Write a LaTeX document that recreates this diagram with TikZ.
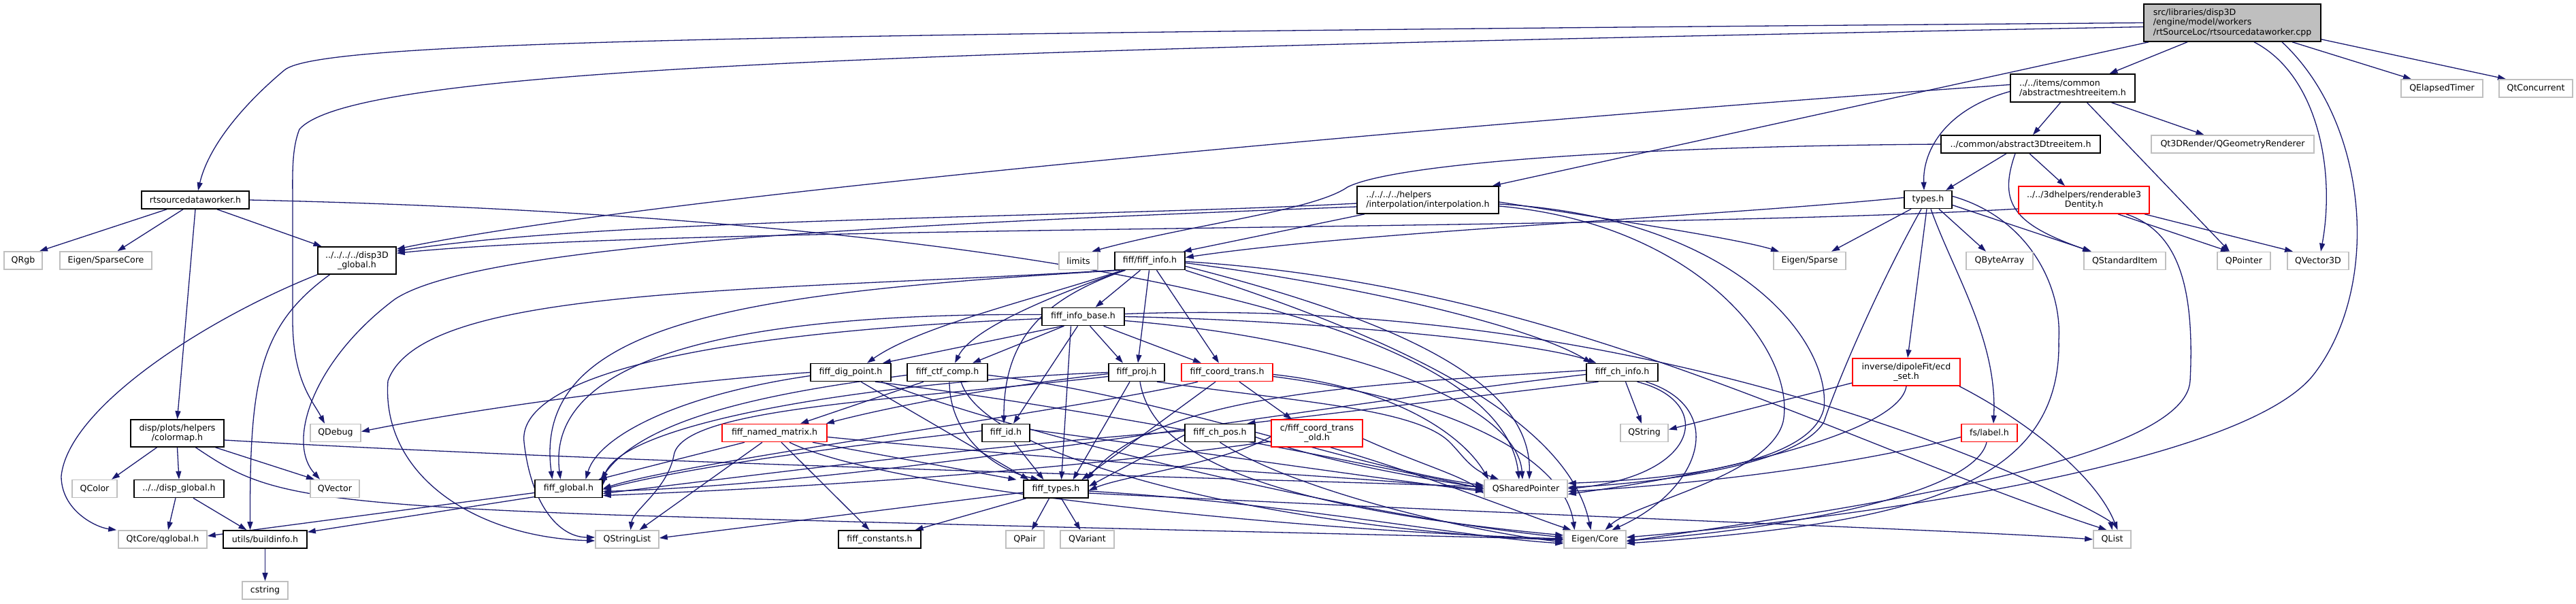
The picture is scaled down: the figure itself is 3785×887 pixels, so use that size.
\documentclass[tikz,border=0pt]{standalone}
\usepackage{fontspec}
\setmainfont{DejaVu Sans}
\usetikzlibrary{arrows.meta}
\definecolor{depblue}{HTML}{191970}
\definecolor{sysgray}{HTML}{BFBFBF}
\definecolor{rootgray}{HTML}{BFBFBF}
\definecolor{incred}{HTML}{FF0000}
\pgfdeclarelayer{edges}
\pgfsetlayers{edges,main}
\tikzset{
  filebox/.style  = {rectangle, draw=black, fill=white, line width=1.6pt,
                     inner sep=2pt, font=\fontsize{12.6}{14.3}\selectfont,
                     align=center, minimum height=26pt},
  rootfile/.style = {filebox, fill=rootgray, align=left, minimum height=55pt},
  sysfile/.style  = {filebox, draw=sysgray},
  redfile/.style  = {filebox, draw=incred},
  twoline/.style  = {minimum height=40pt},
  dep/.style      = {draw=depblue, line width=1.3pt,
                     -{Triangle[length=12pt,width=8pt]}},
}

\begin{document}
\begin{tikzpicture}[x=1pt, y=-1pt]
  \useasboundingbox (0,0) rectangle (3785,887);
  % row 0-1
  \node[rootfile, minimum width=260pt] (root) at (3280,33.5)
    {src/libraries/disp3D\\/engine/model/workers\\/rtSourceLoc/rtsourcedataworker.cpp};
  \node[filebox, twoline, align=left, minimum width=183pt, minimum height=41pt] (abstractmesh) at (3045.5,129.5)
    {../../items/common\\/abstractmeshtreeitem.h};
  \node[sysfile, minimum width=120pt] (QElapsedTimer) at (3588,130) {QElapsedTimer};
  \node[sysfile, minimum width=108pt] (QtConcurrent) at (3726,130) {QtConcurrent};
  \node[filebox, minimum width=234pt] (abstract3D) at (2969,212) {../common/abstract3Dtreeitem.h};
  \node[sysfile, minimum width=239pt] (Qt3DRender) at (3280.5,212) {Qt3DRender/QGeometryRenderer};
  % row 2
  \node[filebox, minimum width=158pt] (rtsrch) at (287,294) {rtsourcedataworker.h};
  \node[filebox, twoline, align=left, minimum width=208pt] (interp) at (2098,294)
    {../../../../helpers\\/interpolation/interpolation.h};
  \node[filebox, minimum width=70pt] (types) at (2833,293.5) {types.h};
  \node[redfile, twoline, minimum width=192pt] (renderable) at (3062,294)
    {../../3dhelpers/renderable3\\Dentity.h};
  % row 3
  \node[sysfile, minimum width=56pt] (QRgb) at (34,383) {QRgb};
  \node[sysfile, minimum width=135pt] (EigenSparseCore) at (155.5,383) {Eigen/SparseCore};
  \node[filebox, twoline, minimum width=115pt] (disp3Dglobal) at (524.5,383) {../../../../disp3D\\\_global.h};
  \node[sysfile, minimum width=57pt] (limits) at (1584.5,383.5) {limits};
  \node[filebox, minimum width=103pt] (fiffinfo) at (1689.5,383.5) {fiff/fiff\_info.h};
  \node[sysfile, minimum width=106pt] (EigenSparse) at (2659,383.5) {Eigen/Sparse};
  \node[sysfile, minimum width=98pt] (QByteArray) at (2938,383.5) {QByteArray};
  \node[sysfile, minimum width=120pt] (QStandardItem) at (3122,383.5) {QStandardItem};
  \node[sysfile, minimum width=78pt] (QPointer) at (3297,383.5) {QPointer};
  \node[sysfile, minimum width=90pt] (QVector3D) at (3406,383.5) {QVector3D};
  % row 4-5
  \node[filebox, minimum width=121pt] (fiffinfobase) at (1591.5,465.5) {fiff\_info\_base.h};
  \node[filebox, minimum width=118pt] (fiffdigpoint) at (1250,547.5) {fiff\_dig\_point.h};
  \node[filebox, minimum width=118pt] (fiffctfcomp) at (1392,547.5) {fiff\_ctf\_comp.h};
  \node[filebox, minimum width=82pt] (fiffproj) at (1670,547.5) {fiff\_proj.h};
  \node[redfile, minimum width=134pt] (fiffcoordtrans) at (1803,547.5) {fiff\_coord\_trans.h};
  \node[filebox, minimum width=105pt] (fiffchinfo) at (2383.5,547.5) {fiff\_ch\_info.h};
  \node[redfile, twoline, minimum width=158pt] (ecdset) at (2801,547) {inverse/dipoleFit/ecd\\\_set.h};
  % row 6
  \node[filebox, twoline, minimum width=137pt] (colormap) at (260.5,637) {disp/plots/helpers\\/colormap.h};
  \node[sysfile, minimum width=74pt] (QDebug) at (493,636.5) {QDebug};
  \node[redfile, minimum width=154pt] (fiffnamedmatrix) at (1138,636.5) {fiff\_named\_matrix.h};
  \node[filebox, minimum width=70pt] (fiffid) at (1478,636.5) {fiff\_id.h};
  \node[filebox, minimum width=103pt] (fiffchpos) at (1792.5,636.5) {fiff\_ch\_pos.h};
  \node[redfile, twoline, minimum width=134pt] (coordtransold) at (1935,637) {c/fiff\_coord\_trans\\\_old.h};
  \node[sysfile, minimum width=70pt] (QString) at (2416,636.5) {QString};
  \node[redfile, minimum width=82pt] (fslabel) at (2923,636.5) {fs/label.h};
  % row 7
  \node[sysfile, minimum width=66pt] (QColor) at (139,718.5) {QColor};
  \node[filebox, minimum width=132pt] (dispglobal) at (263,718.5) {../../disp\_global.h};
  \node[sysfile, minimum width=72pt] (QVector) at (492,718.5) {QVector};
  \node[filebox, minimum width=99pt] (fiffglobal) at (835.5,718.5) {fiff\_global.h};
  \node[filebox, minimum width=95pt] (fifftypes) at (1551.5,719) {fiff\_types.h};
  \node[sysfile, minimum width=122pt] (QSharedPointer) at (2242,718.5) {QSharedPointer};
  % row 8-9
  \node[sysfile, minimum width=130pt] (QtCoreqglobal) at (239,793) {QtCore/qglobal.h};
  \node[filebox, minimum width=123pt] (buildinfo) at (389.5,793) {utils/buildinfo.h};
  \node[sysfile, minimum width=93pt] (QStringList) at (921.5,793) {QStringList};
  \node[filebox, minimum width=121pt] (fiffconstants) at (1292.5,793) {fiff\_constants.h};
  \node[sysfile, minimum width=56pt] (QPair) at (1506,793) {QPair};
  \node[sysfile, minimum width=79pt] (QVariant) at (1597.5,793) {QVariant};
  \node[sysfile, minimum width=91pt] (EigenCore) at (2343.5,793) {Eigen/Core};
  \node[sysfile, minimum width=55pt] (QList) at (3103.5,793) {QList};
  \node[sysfile, minimum width=67pt] (cstring) at (389.5,868) {cstring};

  \begin{pgfonlayer}{edges}
  % root file
  \draw[dep] (root.west) .. controls (1100,50) and (470,60) .. (418,103)
    .. controls (350,160) and (305,220) .. ([xshift=4pt]rtsrch.north);
  \draw[dep] ([yshift=-6pt]root.west) .. controls (1300,75) and (520,100) .. (440,190)
    .. controls (428,220) and (430,260) .. (430,300) -- (430,470)
    .. controls (430,560) and (460,590) .. ([xshift=-16pt]QDebug.north);
  \draw[dep] ([xshift=-66pt]root.south) -- ([xshift=54pt]abstractmesh.north);
  \draw[dep] ([xshift=8pt]root.south west) -- ([xshift=-10pt]interp.north east);
  \draw[dep] ([xshift=88pt]root.south) -- ([xshift=-45pt]QElapsedTimer.north);
  \draw[dep] ([yshift=4pt]root.south east) -- ([xshift=-44pt]QtConcurrent.north);
  \draw[dep] ([xshift=32pt]root.south) .. controls (3405,110) and (3432,250) .. ([xshift=4pt]QVector3D.north);
  \draw[dep] ([xshift=73pt]root.south) .. controls (3480,180) and (3500,420) .. (3400,550)
    .. controls (3300,680) and (2750,760) .. ([yshift=3pt]EigenCore.east);

  % rtsourcedataworker.h
  \draw[dep] ([xshift=-42pt]rtsrch.south) -- ([xshift=24pt]QRgb.north);
  \draw[dep] ([xshift=-18pt]rtsrch.south) -- ([xshift=17pt]EigenSparseCore.north);
  \draw[dep] (rtsrch.south) -- (colormap.north);
  \draw[dep] ([xshift=32pt]rtsrch.south) -- ([xshift=-52pt]disp3Dglobal.north);
  \draw[dep] (rtsrch.east) .. controls (1300,315) and (2200,430) .. ([xshift=-10pt]QSharedPointer.north);

  % globals
  \draw[dep] (disp3Dglobal.south west) .. controls (300,470) and (100,600) .. (90,700)
    .. controls (90,750) and (140,775) .. ([xshift=-2pt]QtCoreqglobal.north west);
  \draw[dep] ([xshift=-40pt]disp3Dglobal.south) .. controls (380,480) and (367,560) .. ([xshift=-22pt]buildinfo.north);
  \draw[dep] ([xshift=-5pt]dispglobal.south) -- ([xshift=8pt]QtCoreqglobal.north);
  \draw[dep] ([xshift=21pt]dispglobal.south) -- ([xshift=-27pt]buildinfo.north);
  \draw[dep] ([yshift=-6pt]fiffglobal.west) -- ([yshift=5pt]QtCoreqglobal.east);
  \draw[dep] ([yshift=-12pt]fiffglobal.west) -- ([yshift=-3pt]buildinfo.north east);
  \draw[dep] (buildinfo) -- (cstring);

  % colormap.h
  \draw[dep] ([xshift=-30pt]colormap.south) -- ([xshift=25pt]QColor.north);
  \draw[dep] (colormap.south) -- (dispglobal.north);
  \draw[dep] ([xshift=56pt]colormap.south) -- ([xshift=-30pt]QVector.north);
  \draw[dep] ([yshift=-10pt]colormap.east) .. controls (900,680) and (1700,700) .. ([yshift=3pt]QSharedPointer.west);
  \draw[dep] ([xshift=27pt]colormap.south) .. controls (380,720) and (420,740) .. (900,757)
    .. controls (1500,775) and (2000,785) .. (EigenCore.west);

  % abstractmeshtreeitem.h
  \draw[dep] ([xshift=-18pt]abstractmesh.south) -- ([xshift=18pt]abstract3D.north);
  \draw[dep] ([xshift=57pt]abstractmesh.south) -- ([xshift=-42pt]Qt3DRender.north);
  \draw[dep] ([xshift=21pt]abstractmesh.south) -- ([xshift=-21pt]QPointer.north);
  \draw[dep] ([yshift=-5pt]abstractmesh.west) .. controls (2860,160) and (2825,220) .. ([xshift=-6pt]types.north);
  \draw[dep] ([yshift=5pt]abstractmesh.west) .. controls (2300,170) and (1000,280) .. ([yshift=-4pt]disp3Dglobal.north east);

  % abstract3Dtreeitem.h
  \draw[dep] ([xshift=-21pt]abstract3D.south) -- ([xshift=26pt]types.north);
  \draw[dep] ([xshift=13pt]abstract3D.south) -- ([xshift=-28pt]renderable.north);
  \draw[dep] ([xshift=-8pt]abstract3D.south) .. controls (2935,300) and (2960,330) .. ([xshift=-50pt]QStandardItem.north);
  \draw[dep] (abstract3D.west) .. controls (2400,215) and (2050,240) .. (1980,275)
    .. controls (1930,310) and (1750,330) .. ([xshift=20pt]limits.north);

  % renderable3Dentity.h
  \draw[dep] ([xshift=50pt]renderable.south) -- ([xshift=-22pt]QPointer.north);
  \draw[dep] ([xshift=89pt]renderable.south) -- ([xshift=-37pt]QVector3D.north);
  \draw[dep] ([yshift=-13pt]renderable.west) .. controls (2400,340) and (1000,330) .. ([yshift=-10pt]disp3Dglobal.north east);
  \draw[dep] ([xshift=62pt]renderable.south) .. controls (3200,340) and (3225,420) .. (3218,560)
    .. controls (3210,680) and (2700,750) .. ([yshift=-3pt]EigenCore.east);

  % types.h
  \draw[dep] ([xshift=-25pt]types.south) -- ([xshift=32pt]EigenSparse.north);
  \draw[dep] ([xshift=16pt]types.south) -- ([xshift=-20pt]QByteArray.north);
  \draw[dep] ([yshift=-8pt]types.east) -- ([xshift=-49pt]QStandardItem.north);
  \draw[dep] ([xshift=-2pt]types.south) -- ([xshift=2pt]ecdset.north);
  \draw[dep] ([xshift=4pt]types.south) .. controls (2870,400) and (2935,500) .. ([xshift=6pt]fslabel.north);
  \draw[dep] ([xshift=-10pt]types.south) .. controls (2760,420) and (2700,560) .. (2680,620)
    .. controls (2640,690) and (2400,712) .. ([yshift=2pt]QSharedPointer.east);
  \draw[dep] ([yshift=5pt]types.east) .. controls (2980,320) and (3030,420) .. (3025,500)
    .. controls (3030,720) and (2800,770) .. ([yshift=-6pt]EigenCore.east);
  \draw[dep] ([yshift=3pt]types.west) .. controls (2500,320) and (2000,340) .. ([yshift=5pt]fiffinfo.east);

  % interpolation.h
  \draw[dep] ([xshift=-93pt]interp.south) -- ([xshift=-3pt]fiffinfo.north east);
  \draw[dep] ([yshift=-5pt]interp.west) .. controls (1600,320) and (900,320) .. ([yshift=-7pt]disp3Dglobal.north east);
  \draw[dep] ([yshift=-10pt]interp.west) .. controls (1300,330) and (700,360) .. (580,440)
    .. controls (460,530) and (420,650) .. ([xshift=-22pt]QVector.north);
  \draw[dep] ([yshift=-3pt]interp.east) .. controls (2350,320) and (2550,350) .. ([xshift=-45pt]EigenSparse.north);
  \draw[dep] ([yshift=-6pt]interp.east) .. controls (2550,320) and (2690,500) .. (2680,600)
    .. controls (2660,690) and (2420,706) .. ([yshift=8pt]QSharedPointer.east);
  \draw[dep] ([yshift=-9pt]interp.east) .. controls (2500,330) and (2640,520) .. (2620,620)
    .. controls (2600,700) and (2400,740) .. ([xshift=15pt]EigenCore.north);

  % fiff_info.h
  \draw[dep] ([xshift=-14pt]fiffinfo.south) -- ([xshift=18pt]fiffinfobase.north);
  \draw[dep] ([xshift=-1pt]fiffinfo.south) -- ([xshift=2pt]fiffproj.north);
  \draw[dep] ([xshift=10pt]fiffinfo.south) -- ([xshift=-12pt]fiffcoordtrans.north);
  \draw[dep] ([xshift=-40pt]fiffinfo.south) .. controls (1520,440) and (1350,480) .. ([xshift=24pt]fiffdigpoint.north);
  \draw[dep] ([xshift=-38pt]fiffinfo.south) .. controls (1560,430) and (1430,480) .. ([xshift=11pt]fiffctfcomp.north);
  \draw[dep] ([xshift=-36pt]fiffinfo.south) .. controls (1530,440) and (1475,500) .. ([xshift=-3pt]fiffid.north);
  \draw[dep] ([xshift=-44pt]fiffinfo.south) .. controls (1100,430) and (780,470) .. ([xshift=-24pt]fiffglobal.north);
  \draw[dep] (fiffinfo.south west) .. controls (1100,430) and (620,420) .. (570,560)
    .. controls (560,700) and (700,790) .. ([yshift=-2pt]QStringList.west);
  \draw[dep] ([yshift=-3pt]fiffinfo.east) .. controls (2000,420) and (2250,480) .. ([xshift=-45pt]fiffchinfo.north);
  \draw[dep] ([yshift=-8pt]fiffinfo.east) .. controls (2050,470) and (2250,560) .. ([xshift=5pt]QSharedPointer.north);
  \draw[dep] (fiffinfo.south east) .. controls (2000,480) and (2300,600) .. ([xshift=-6pt]EigenCore.north);
  \draw[dep] ([yshift=-1pt]fiffinfo.east) .. controls (2300,420) and (2700,650) .. ([xshift=-8pt]QList.north);

  % fiff_info_base.h
  \draw[dep] ([xshift=-30pt]fiffinfobase.south) -- ([xshift=47pt]fiffdigpoint.north);
  \draw[dep] ([xshift=-28pt]fiffinfobase.south) -- ([xshift=37pt]fiffctfcomp.north);
  \draw[dep] ([xshift=-8pt]fiffinfobase.south) -- ([xshift=11pt]fiffid.north);
  \draw[dep] ([xshift=10pt]fiffinfobase.south) -- ([xshift=-20pt]fiffproj.north);
  \draw[dep] ([xshift=30pt]fiffinfobase.south) -- ([xshift=-38pt]fiffcoordtrans.north);
  \draw[dep] ([xshift=-18pt]fiffinfobase.south) -- ([xshift=8pt]fifftypes.north);
  \draw[dep] ([yshift=3pt]fiffinfobase.west) .. controls (1100,460) and (800,520) .. ([xshift=-12pt]fiffglobal.north);
  \draw[dep] ([yshift=-3pt]fiffinfobase.west) .. controls (1000,490) and (760,560) .. (770,650)
    .. controls (780,740) and (820,790) .. ([yshift=3pt]QStringList.west);
  \draw[dep] (fiffinfobase.east) .. controls (1900,470) and (2250,500) .. ([xshift=-38pt]fiffchinfo.north);
  \draw[dep] ([yshift=-6pt]fiffinfobase.east) .. controls (2000,500) and (2230,600) .. ([xshift=-5pt]QSharedPointer.north);
  \draw[dep] ([yshift=4pt]fiffinfobase.east) .. controls (2500,430) and (3100,760) .. (QList.north);

  % fiff_dig_point.h, fiff_ctf_comp.h
  \draw[dep] (fiffdigpoint.west) .. controls (1000,560) and (700,600) .. ([yshift=2pt]QDebug.east);
  \draw[dep] ([yshift=-5pt]fiffdigpoint.west) .. controls (1000,580) and (880,640) .. ([xshift=25pt]fiffglobal.north);
  \draw[dep] ([xshift=15pt]fiffdigpoint.south) -- ([xshift=-40pt]fifftypes.north);
  \draw[dep] ([xshift=36pt]fiffdigpoint.south) .. controls (1600,600) and (2000,680) .. (QSharedPointer.west);
  \draw[dep] ([xshift=45pt]fiffdigpoint.south) .. controls (1500,640) and (2000,760) .. ([yshift=3pt]EigenCore.west);
  \draw[dep] ([xshift=-35pt]fiffctfcomp.south) -- ([xshift=38pt]fiffnamedmatrix.north);
  \draw[dep] ([xshift=3pt]fiffctfcomp.south) .. controls (1395,640) and (1460,690) .. ([xshift=-25pt]fifftypes.north);
  \draw[dep] ([yshift=-4pt]fiffctfcomp.west) .. controls (1150,575) and (950,610) .. ([xshift=-3pt]fiffglobal.north east);
  \draw[dep] ([yshift=-4pt]fiffctfcomp.east) .. controls (1700,580) and (2000,690) .. ([yshift=5pt]QSharedPointer.west);
  \draw[dep] ([xshift=20pt]fiffctfcomp.south) .. controls (1450,680) and (1900,780) .. ([yshift=-1pt]EigenCore.west);

  % fiff_proj.h, fiff_coord_trans.h
  \draw[dep] ([yshift=-2pt]fiffproj.west) .. controls (1450,570) and (1300,600) .. ([xshift=-2pt]fiffnamedmatrix.north east);
  \draw[dep] ([xshift=-10pt]fiffproj.south) -- ([xshift=25pt]fifftypes.north);
  \draw[dep] (fiffproj.west) .. controls (1300,560) and (900,620) .. ([yshift=5pt]fiffglobal.east);
  \draw[dep] ([yshift=-6pt]fiffproj.west) .. controls (1300,590) and (1000,600) .. (990,670)
    .. controls (980,720) and (930,750) .. ([xshift=5pt]QStringList.north);
  \draw[dep] ([xshift=30pt]fiffproj.south) .. controls (1900,590) and (2080,600) .. (2130,650)
    .. controls (2150,670) and (2160,690) .. ([xshift=-40pt]QSharedPointer.north);
  \draw[dep] ([xshift=5pt]fiffproj.south) .. controls (1690,650) and (1800,740) .. ([yshift=6pt]EigenCore.west);
  \draw[dep] ([xshift=18pt]fiffcoordtrans.south) -- ([xshift=-37pt]coordtransold.north);
  \draw[dep] ([xshift=-17pt]fiffcoordtrans.south) -- ([xshift=38pt]fifftypes.north);
  \draw[dep] ([xshift=-43pt]fiffcoordtrans.south) .. controls (1600,600) and (1000,680) .. (fiffglobal.east);
  \draw[dep] ([yshift=-3pt]fiffcoordtrans.east) .. controls (2050,570) and (2150,640) .. ([xshift=-55pt]QSharedPointer.north);
  \draw[dep] ([yshift=-6pt]fiffcoordtrans.east) .. controls (2150,590) and (2300,680) .. ([xshift=-30pt]EigenCore.north);

  % fiff_named_matrix.h, fiff_id.h
  \draw[dep] ([xshift=-44pt]fiffnamedmatrix.south) -- ([xshift=44pt]fiffglobal.north);
  \draw[dep] ([xshift=-18pt]fiffnamedmatrix.south) -- ([xshift=18pt]QStringList.north);
  \draw[dep] ([xshift=10pt]fiffnamedmatrix.south) -- ([xshift=-15pt]fiffconstants.north);
  \draw[dep] ([xshift=56pt]fiffnamedmatrix.south) -- ([xshift=-58pt]fifftypes.north);
  \draw[dep] ([yshift=-6pt]fiffnamedmatrix.east) .. controls (1700,690) and (2000,700) .. ([yshift=-2pt]QSharedPointer.west);
  \draw[dep] ([xshift=22pt]fiffnamedmatrix.south) .. controls (1300,720) and (1900,780) .. ([yshift=1pt]EigenCore.west);
  \draw[dep] ([xshift=12pt]fiffid.south) -- ([xshift=-18pt]fifftypes.north);
  \draw[dep] ([yshift=3pt]fiffid.west) .. controls (1200,660) and (1000,690) .. ([yshift=-1pt]fiffglobal.east);
  \draw[dep] ([yshift=5pt]fiffid.east) .. controls (1800,670) and (2000,700) .. ([yshift=-4pt]QSharedPointer.west);

  % fiff_ch_info.h, fiff_ch_pos.h, fiff_coord_trans_old.h
  \draw[dep] ([xshift=-35pt]fiffchinfo.south) -- ([xshift=40pt]fiffchpos.north);
  \draw[dep] ([xshift=5pt]fiffchinfo.south) -- ([xshift=-4pt]QString.north);
  \draw[dep] ([xshift=22pt]fiffchinfo.south) .. controls (2520,590) and (2500,700) .. (QSharedPointer.east);
  \draw[dep] ([xshift=35pt]fiffchinfo.south) .. controls (2540,600) and (2500,720) .. ([xshift=25pt]EigenCore.north);
  \draw[dep] ([yshift=3pt]fiffchinfo.west) .. controls (2000,565) and (1700,580) .. ([xshift=-3pt]fifftypes.north east);
  \draw[dep] ([yshift=-3pt]fiffchinfo.west) .. controls (1900,600) and (1300,710) .. ([yshift=-4pt]fiffglobal.east);
  \draw[dep] ([yshift=-3pt]fiffchpos.west) -- ([yshift=4pt]fifftypes.east);
  \draw[dep] ([yshift=3pt]fiffchpos.west) .. controls (1400,660) and (1100,700) .. ([yshift=-7pt]fiffglobal.east);
  \draw[dep] ([yshift=-6pt]fiffchpos.east) .. controls (1950,680) and (2100,705) .. ([yshift=1pt]QSharedPointer.west);
  \draw[dep] (fiffchpos.south) .. controls (1900,720) and (2150,780) .. ([yshift=-4pt]EigenCore.west);
  \draw[dep] ([yshift=-5pt]coordtransold.west) .. controls (1800,680) and (1650,700) .. ([yshift=-2pt]fifftypes.east);
  \draw[dep] ([yshift=-12pt]coordtransold.west) .. controls (1500,700) and (1100,720) .. ([yshift=-10pt]fiffglobal.east);
  \draw[dep] ([yshift=-8pt]coordtransold.east) .. controls (2080,680) and (2150,700) .. ([yshift=-7pt]QSharedPointer.west);
  \draw[dep] ([xshift=20pt]coordtransold.south) .. controls (2100,700) and (2250,760) .. ([xshift=-35pt]EigenCore.north);

  % fiff_types.h
  \draw[dep] ([xshift=-44pt]fifftypes.south) -- ([xshift=52pt]fiffconstants.north);
  \draw[dep] ([xshift=-10pt]fifftypes.south) -- ([xshift=10pt]QPair.north);
  \draw[dep] ([xshift=8pt]fifftypes.south) -- ([xshift=-10pt]QVariant.north);
  \draw[dep] ([yshift=-5pt]fifftypes.west) -- ([yshift=2pt]QStringList.east);
  \draw[dep] ([yshift=-3pt]fifftypes.east) .. controls (1900,740) and (2150,790) .. ([yshift=-6pt]EigenCore.west);
  \draw[dep] ([yshift=-6pt]fifftypes.east) .. controls (2300,760) and (2900,780) .. (QList.west);

  % ecd_set.h, label.h
  \draw[dep] ([yshift=-16pt]ecdset.west) -- ([yshift=5pt]QString.east);
  \draw[dep] (ecdset.south) .. controls (2790,640) and (2500,700) .. ([yshift=-8pt]QSharedPointer.east);
  \draw[dep] ([xshift=-2pt]ecdset.south east) .. controls (2980,620) and (3080,700) .. ([xshift=8pt]QList.north);
  \draw[dep] ([yshift=-6pt]fslabel.west) .. controls (2700,690) and (2450,715) .. ([yshift=-4pt]QSharedPointer.east);
  \draw[dep] ([xshift=-4pt]fslabel.south) .. controls (2900,730) and (2600,780) .. ([yshift=-2pt]EigenCore.east);
  \end{pgfonlayer}
\end{tikzpicture}
\end{document}
